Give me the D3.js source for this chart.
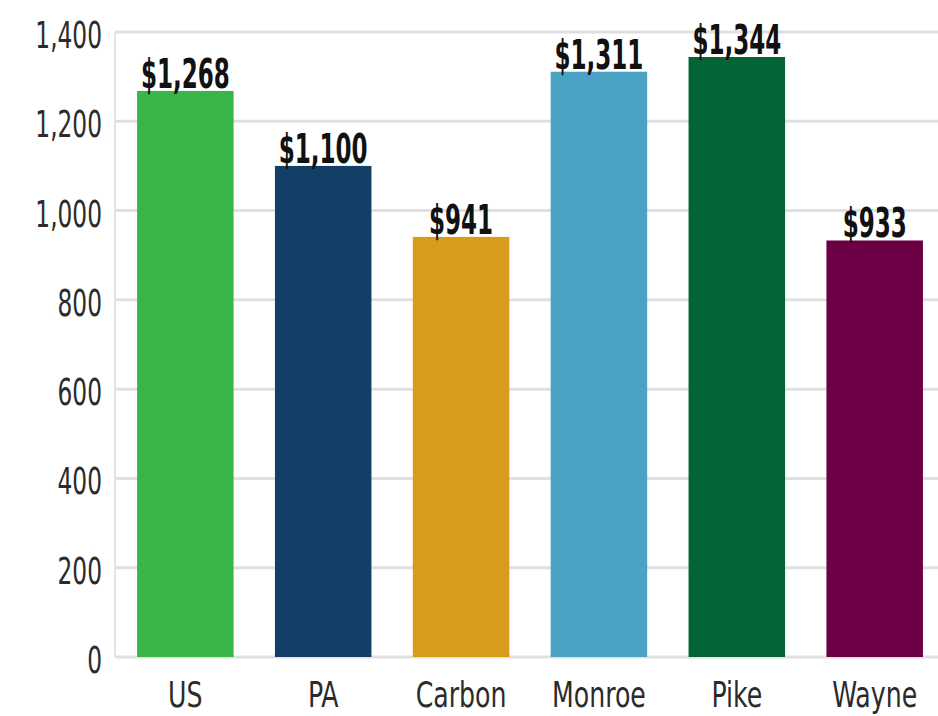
<!DOCTYPE html>
<html>
<head>
<meta charset="utf-8">
<script src="https://cdn.jsdelivr.net/npm/d3@7"></script>
<style>
  html, body { margin: 0; padding: 0; background: #fff; }
  svg { display: block; }
  text { font-family: "DejaVu Sans Condensed", "Liberation Sans Narrow", "Roboto", sans-serif; }
</style>
</head>
<body>
<svg id="chart" width="938" height="716"></svg>
<script>
const categories = ["US", "PA", "Carbon", "Monroe", "Pike", "Wayne"];
const values = [1268, 1100, 941, 1311, 1344, 933];
const valueLabels = ["$1,268", "$1,100", "$941", "$1,311", "$1,344", "$933"];
const colors = ["#39b54a", "#133f66", "#d89b1c", "#4aa3c5", "#036535", "#6b0044"];
const yTicks = [0, 200, 400, 600, 800, 1000, 1200, 1400];

const svg = d3.select("#chart");
const margin = { left: 115, top: 32, bottom: 59 };
const plotRight = 945;
const height = 716;

const y = d3.scaleLinear().domain([0, 1400]).range([height - margin.bottom, margin.top]);
const x = d3.scaleBand().domain(categories).range([margin.left, plotRight])
  .paddingInner(0.3).paddingOuter(0.16);

// gridlines
svg.append("g").selectAll("line").data(yTicks).join("line")
  .attr("x1", margin.left).attr("x2", plotRight)
  .attr("y1", d => y(d)).attr("y2", d => y(d))
  .attr("stroke", "#e0e0e0").attr("stroke-width", 3);

// left axis line
svg.append("line")
  .attr("x1", margin.left).attr("x2", margin.left)
  .attr("y1", y(1400)).attr("y2", y(0))
  .attr("stroke", "#e4e4e4").attr("stroke-width", 2);

// y axis
const yPad = 13, ySx = 0.7;
const yAxis = svg.append("g").attr("transform", `translate(${margin.left},0)`)
  .call(d3.axisLeft(y).tickValues(yTicks).tickFormat(d3.format(",")).tickSize(0).tickPadding(yPad));
yAxis.select(".domain").remove();
yAxis.selectAll("text")
  .attr("font-size", 37).attr("fill", "#2b2b2b").attr("dy", "0.42em")
  .attr("x", -yPad / ySx)
  .attr("transform", `scale(${ySx},1)`);

// bars
svg.append("g").selectAll("rect").data(categories).join("rect")
  .attr("x", d => x(d)).attr("width", x.bandwidth())
  .attr("y", (d, i) => y(values[i]))
  .attr("height", (d, i) => y(0) - y(values[i]))
  .attr("fill", (d, i) => colors[i]);

// value labels
svg.append("g").selectAll("text").data(categories).join("text")
  .attr("transform", (d, i) => `translate(${x(d) + x.bandwidth() / 2},${y(values[i]) - 3}) scale(0.64,1)`)
  .attr("text-anchor", "middle")
  .attr("font-size", 40).attr("font-weight", "bold").attr("fill", "#111")
  .text((d, i) => valueLabels[i]);

// x axis
const xAxis = svg.append("g").attr("transform", `translate(0,${y(0)})`)
  .call(d3.axisBottom(x).tickSize(0).tickPadding(25));
xAxis.select(".domain").remove();
xAxis.selectAll("text")
  .attr("font-size", 35).attr("fill", "#2b2b2b")
  .attr("transform", "scale(0.8,1)")
  .attr("x", 0);
</script>
</body>
</html>
